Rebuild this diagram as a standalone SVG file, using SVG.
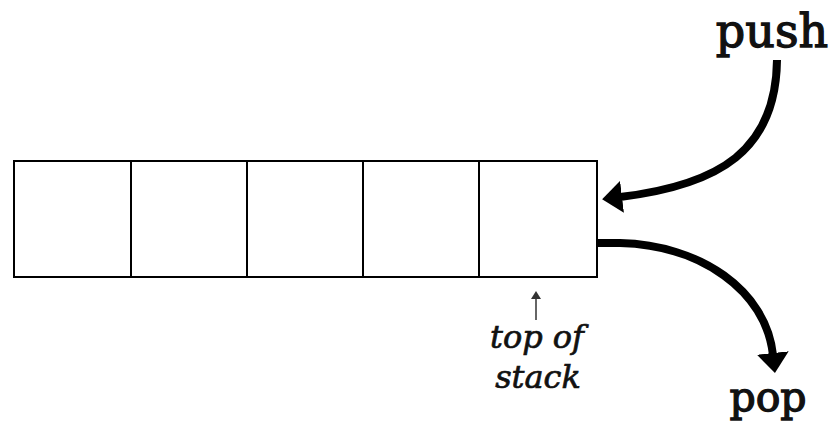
<svg xmlns="http://www.w3.org/2000/svg" width="840" height="424" viewBox="0 0 840 424">
  <style>
    .cell { fill: #fff; stroke: #000; stroke-width: 2; }
    .flow { fill: none; stroke: #000; stroke-width: 8; }
    .cmd { font-family: "DejaVu Serif", "Liberation Serif", serif; fill: #111; stroke: #111; stroke-width: 1.3; }
    .note { font-family: "DejaVu Serif", "Liberation Serif", serif; font-style: italic; fill: #111; stroke: #111; stroke-width: 0.7; font-size: 32px; }
  </style>
  <defs>
    <marker id="head" markerUnits="userSpaceOnUse" viewBox="0 0 20 32" refX="2" refY="16" markerWidth="20" markerHeight="32" orient="auto">
      <path d="M0,0 L20,16 L0,32 Z" fill="#000"/>
    </marker>
    <marker id="tick" markerUnits="userSpaceOnUse" viewBox="0 0 8 10" refX="1" refY="5" markerWidth="8" markerHeight="10" orient="auto">
      <path d="M0,0 L8,5 L0,10 Z" fill="#333"/>
    </marker>
  </defs>

  <!-- stack array: five cells -->
  <g id="stack">
    <rect class="cell" x="14" y="161" width="117" height="116"/>
    <rect class="cell" x="131" y="161" width="116" height="116"/>
    <rect class="cell" x="247" y="161" width="116" height="116"/>
    <rect class="cell" x="363" y="161" width="116" height="116"/>
    <rect class="cell" x="479" y="161" width="118" height="116"/>
  </g>

  <!-- operations -->
  <g id="push">
    <text class="cmd" x="772" y="47" font-size="46" text-anchor="middle">push</text>
  </g>
  <g id="pop">
    <text class="cmd" x="768" y="411" font-size="41" text-anchor="middle">pop</text>
  </g>
  <g id="top-label">
    <text class="note" x="537" y="348" text-anchor="middle">top of</text>
    <text class="note" x="538" y="388" text-anchor="middle">stack</text>
  </g>

  <!-- connectors -->
  <g id="connectors">
    <path class="flow" d="M777,60 C776,150 720,185 620,197" marker-end="url(#head)"/>
    <path class="flow" d="M597,243 L620,243 C700,245 766,290 773,355" marker-end="url(#head)"/>
    <path d="M536,320 L536,298" stroke="#333" stroke-width="1.5" fill="none" marker-end="url(#tick)"/>
  </g>
</svg>
